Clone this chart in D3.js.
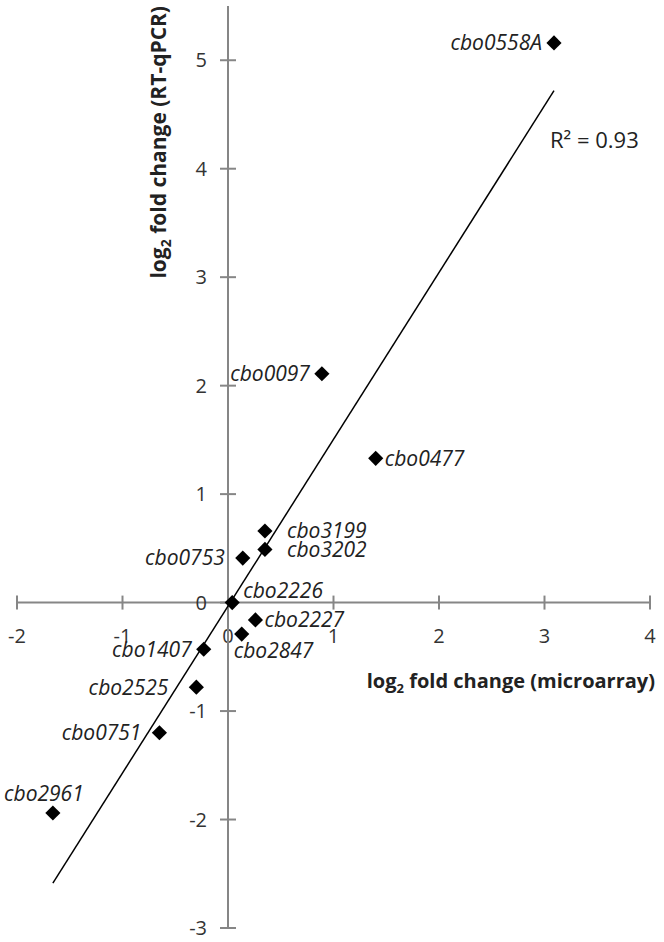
<!DOCTYPE html>
<html lang="en">
  <head>
    <meta charset="utf-8">
    <title>RT-qPCR vs microarray</title>
    <script src="https://d3js.org/d3.v7.min.js"></script>
    <style>
      body { margin: 0; background: #fff; }
      svg { display: block; font-family: "Open Sans", sans-serif; }
    </style>
  </head>
  <body>
    <svg id="chart" width="664" height="942"></svg>
    <script type="text/javascript">
      // gene labels and values
      var genes = ["cbo0558A", "cbo0097", "cbo0477", "cbo3199", "cbo3202", "cbo0753", "cbo2226",
                   "cbo2227", "cbo2847", "cbo1407", "cbo2525", "cbo0751", "cbo2961"];
      var microarray = [3.09, 0.89, 1.40, 0.35, 0.35, 0.14, 0.04, 0.26, 0.13, -0.23, -0.30, -0.65, -1.66];
      var rtqpcr = [5.16, 2.11, 1.33, 0.66, 0.49, 0.41, 0.00, -0.16, -0.29, -0.43, -0.78, -1.20, -1.94];
      // where each label sits relative to its point
      var labelSide = ["left", "left", "right", "right2", "right2", "left2", "above",
                       "right", "below", "left", "left3", "left2", "top"];

      var xTicks = [-2, -1, 0, 1, 2, 3, 4];
      var yTicks = [-3, -2, -1, 0, 1, 2, 3, 4, 5];
      // trend line (linear fit)
      var trendSlope = 1.538, trendIntercept = -0.033;
      var rSquared = "0.93";

      var svg = d3.select("svg#chart");
      var xScale = d3.scaleLinear().domain([-2, 4]).range([17, 650]);
      var yScale = d3.scaleLinear().domain([-3, 5.5]).range([928, 6]);
      var axisColor = "#868686";

      // x axis along y = 0
      var gx = svg.append("g").attr("transform", "translate(0," + yScale(0) + ")");
      gx.append("line").attr("x1", xScale(-2)).attr("x2", xScale(4))
        .attr("stroke", axisColor).attr("stroke-width", 2);
      gx.selectAll("line.tick").data(xTicks).enter().append("line").attr("class", "tick")
        .attr("x1", d => xScale(d)).attr("x2", d => xScale(d)).attr("y1", -7).attr("y2", 7)
        .attr("stroke", axisColor).attr("stroke-width", 2);
      gx.selectAll("text").data(xTicks).enter().append("text")
        .attr("x", d => xScale(d)).attr("y", 33).attr("dy", "0.35em")
        .attr("text-anchor", "middle").attr("fill", "#333").style("font-size", "20px")
        .text(d => d);

      // y axis along x = 0
      var gy = svg.append("g").attr("transform", "translate(" + xScale(0) + ",0)");
      gy.append("line").attr("y1", yScale(-3)).attr("y2", yScale(5.5))
        .attr("stroke", axisColor).attr("stroke-width", 2);
      gy.selectAll("line.tick").data(yTicks).enter().append("line").attr("class", "tick")
        .attr("y1", d => yScale(d)).attr("y2", d => yScale(d)).attr("x1", -8).attr("x2", 8)
        .attr("stroke", axisColor).attr("stroke-width", 2);
      gy.selectAll("text").data(yTicks).enter().append("text")
        .attr("y", d => yScale(d)).attr("x", -21).attr("dy", "0.35em")
        .attr("text-anchor", "end").attr("fill", "#333").style("font-size", "20px")
        .text(d => d);

      // axis titles
      var xt = svg.append("text").attr("x", 655).attr("y", 688).attr("text-anchor", "end")
        .style("font-size", "20px").style("font-weight", "bold").attr("fill", "#222");
      xt.append("tspan").text("log");
      xt.append("tspan").attr("dy", 5).style("font-size", "13px").text("2");
      xt.append("tspan").attr("dy", -5).text(" fold change (microarray)");

      var yt = svg.append("text").attr("transform", "translate(166,6) rotate(-90)")
        .attr("text-anchor", "end")
        .style("font-size", "21px").style("font-weight", "bold").attr("fill", "#222");
      yt.append("tspan").text("log");
      yt.append("tspan").attr("dy", 5).style("font-size", "14px").text("2");
      yt.append("tspan").attr("dy", -5).text(" fold change (RT-qPCR)");

      // trend line across the range of the data
      var xr = d3.extent(microarray);
      svg.append("line")
        .attr("x1", xScale(xr[0])).attr("y1", yScale(trendSlope * xr[0] + trendIntercept))
        .attr("x2", xScale(xr[1])).attr("y2", yScale(trendSlope * xr[1] + trendIntercept))
        .attr("stroke", "#000").attr("stroke-width", 1.5);

      svg.append("text").attr("x", 550).attr("y", 140).attr("dy", "0.35em")
        .style("font-size", "22px").attr("fill", "#222").text("R² = " + rSquared);

      var points = genes.map((g, i) => ({ gene: g, x: microarray[i], y: rtqpcr[i], side: labelSide[i] }));

      var diamond = d3.symbol().type(d3.symbolSquare).size(115);
      svg.selectAll("path.pt").data(points).enter().append("path").attr("class", "pt")
        .attr("d", diamond)
        .attr("transform", d => "translate(" + xScale(d.x) + "," + yScale(d.y) + ") rotate(45)")
        .attr("fill", "#000");

      var offsets = {
        left: [-12, 0, "end"], left2: [-18, 0, "end"], left3: [-28, 0, "end"],
        right: [9, 0, "start"], right2: [22, 0, "start"],
        above: [11, -12, "start"], below: [-8, 17, "start"], top: [-9, -19, "middle"]
      };
      svg.selectAll("text.lbl").data(points).enter().append("text").attr("class", "lbl")
        .attr("x", d => xScale(d.x) + offsets[d.side][0])
        .attr("y", d => yScale(d.y) + offsets[d.side][1]).attr("dy", "0.35em")
        .attr("text-anchor", d => offsets[d.side][2])
        .style("font-size", "21px").style("font-style", "italic").attr("fill", "#222")
        .text(d => d.gene);
    </script>
  </body>
</html>
